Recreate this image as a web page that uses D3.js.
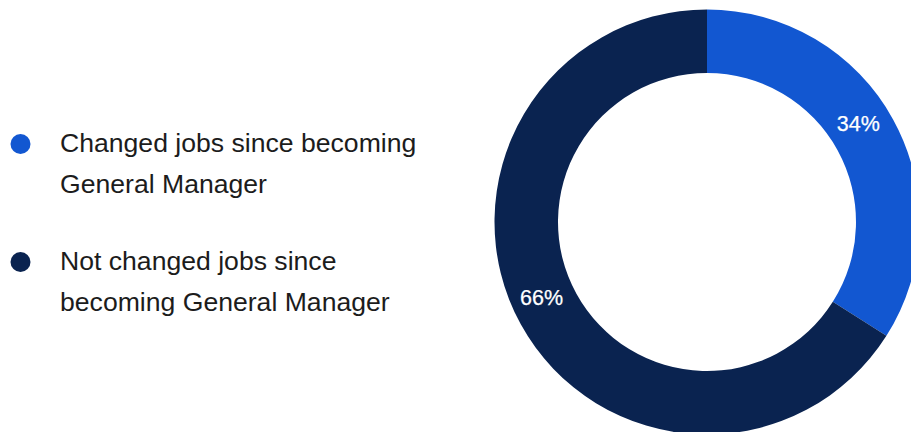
<!DOCTYPE html>
<html>
<head>
<meta charset="utf-8">
<script src="https://cdn.jsdelivr.net/npm/d3@7"></script>
<style>
  html, body { margin: 0; padding: 0; background: #ffffff; }
  svg { display: block; }
</style>
</head>
<body>
<svg id="chart" width="911" height="432"></svg>
<script>
// Share of general managers by job change since taking the role
const categories = ["Changed jobs since becoming General Manager", "Not changed jobs since becoming General Manager"];
const legendLines = [["Changed jobs since becoming", "General Manager"], ["Not changed jobs since", "becoming General Manager"]];
const values = [34, 66];
const colors = ["#1257D1", "#0A2350"];

const svg = d3.select("#chart");

const cx = 707, cy = 222;
const outerR = 212.5, innerR = 149;

const pie = d3.pie().sort(null).value(d => d.value).startAngle(0).endAngle(2 * Math.PI);
const arcs = pie(values.map((v, i) => ({ value: v, name: categories[i], color: colors[i] })));
const arc = d3.arc().innerRadius(innerR).outerRadius(outerR);

const donut = svg.append("g").attr("transform", `translate(${cx},${cy})`);
donut.selectAll("path.slice")
  .data(arcs)
  .join("path")
  .attr("class", "slice")
  .attr("d", arc)
  .attr("fill", d => d.data.color);

// Percent labels at the middle of each ring segment
donut.selectAll("text.pct")
  .data(arcs)
  .join("text")
  .attr("class", "pct")
  .attr("x", d => arc.centroid(d)[0] - 7)
  .attr("y", d => arc.centroid(d)[1] - 4)
  .attr("text-anchor", "middle")
  .attr("fill", "#ffffff")
  .attr("stroke", "#ffffff")
  .attr("stroke-width", 0.25)
  .attr("font-family", "'Liberation Sans', Arial, Helvetica, sans-serif")
  .attr("font-size", 21.5)
  .text(d => d.data.value + "%");

// Legend
const legend = svg.append("g");
const item = legend.selectAll("g.item")
  .data(categories.map((c, i) => ({ name: c, lines: legendLines[i], color: colors[i] })))
  .join("g")
  .attr("class", "item")
  .attr("transform", (d, i) => `translate(0,${144 + i * 118})`);

item.append("circle")
  .attr("cx", 20.5)
  .attr("cy", 0)
  .attr("r", 10)
  .attr("fill", d => d.color);

const txt = item.append("text")
  .attr("font-family", "'Liberation Sans', Arial, Helvetica, sans-serif")
  .attr("font-size", 26.6)
  .attr("fill", "#1c1c1c");

txt.selectAll("tspan")
  .data(d => d.lines)
  .join("tspan")
  .attr("x", 60)
  .attr("y", (d, j) => 8 + j * 40.5)
  .text(d => d);
</script>
</body>
</html>
